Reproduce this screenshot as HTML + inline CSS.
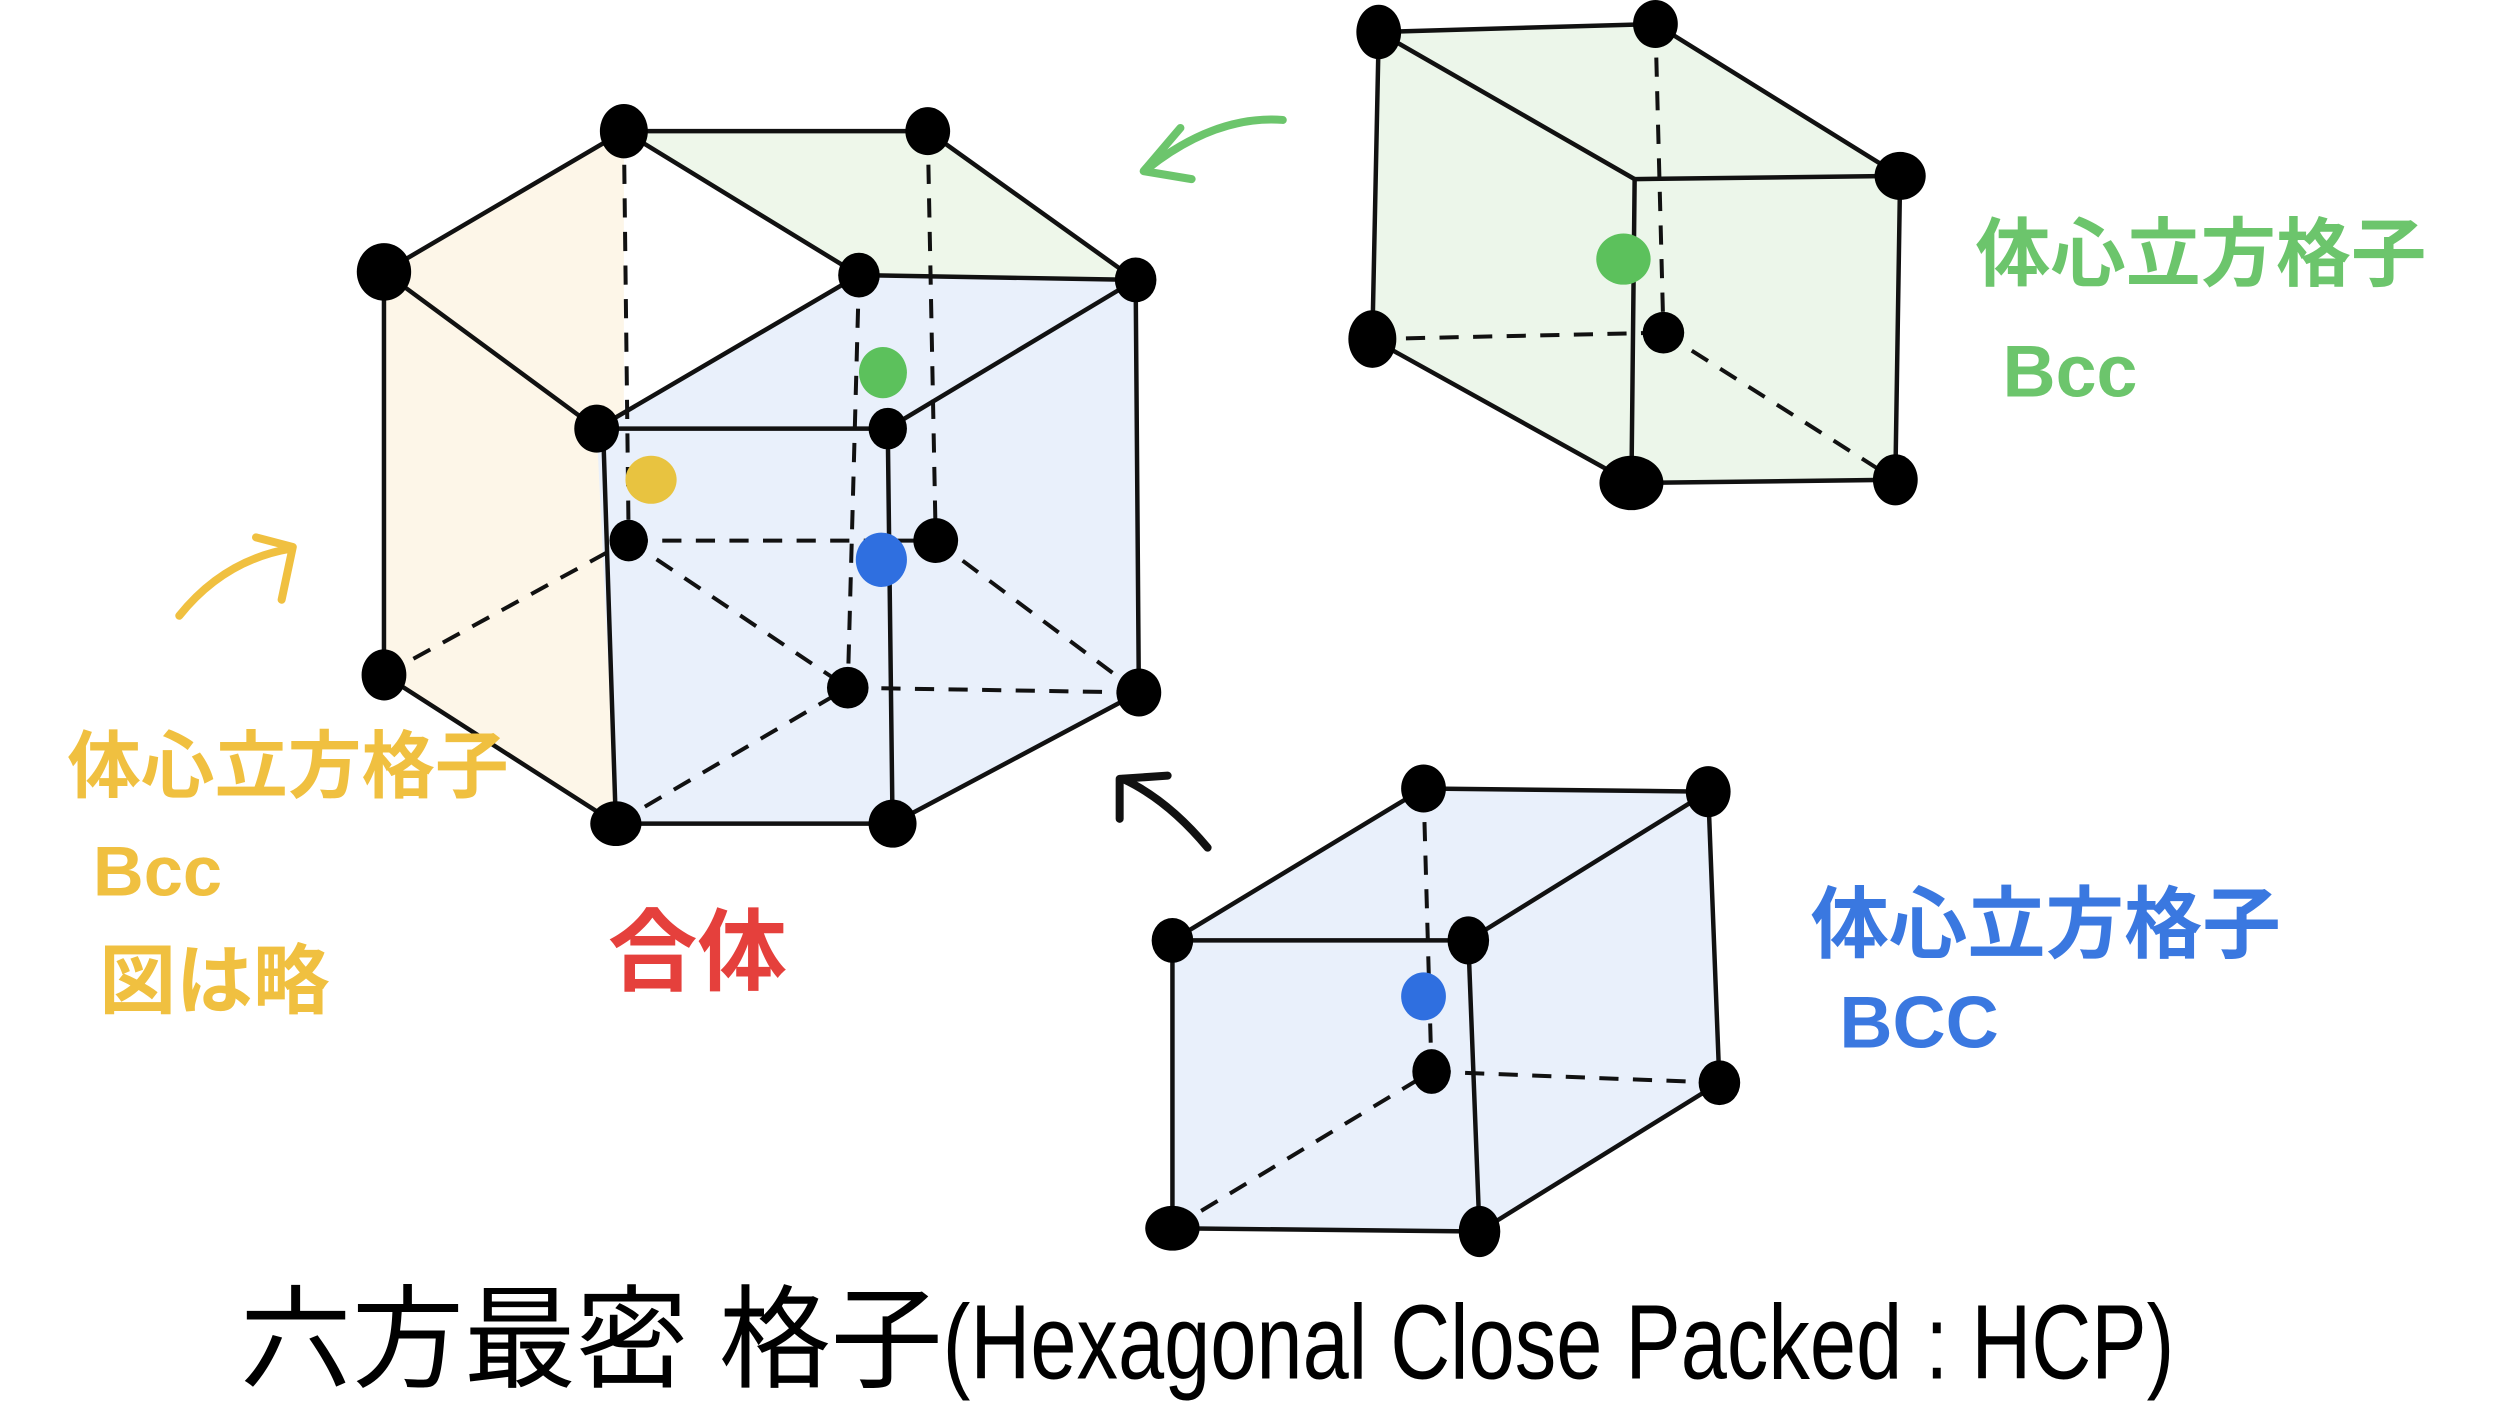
<!DOCTYPE html>
<html><head><meta charset="utf-8"><style>
html,body{margin:0;padding:0;background:#fff;}
svg{display:block;}
text{font-family:"Liberation Sans","Noto Sans CJK JP",sans-serif;}
</style></head><body>
<svg width="2508" height="1409" viewBox="0 0 1568 881" xmlns="http://www.w3.org/2000/svg">
<rect width="1568" height="881" fill="#fff"/>
<polygon points="240,170 390,82 390,338 385,515 240,422" fill="#fdf6e8"/>
<polygon points="390,82 580,82 710,175 537,172" fill="#eef7ea"/>
<polygon points="373,268 537,172 710,175 712,433 558,515 385,515" fill="#e9f0fb"/>
<polygon points="862,20 1035,15 1188,110 1185,300 1020,302 858,212" fill="#ecf6ea"/>
<polygon points="890,493 1068,495 1075,677 925,770 733,768 733,588" fill="#e9f0fb"/>
<g stroke="#111" stroke-width="2.8" fill="none" stroke-linecap="round">
<polyline points="240,422 240,170 390,82 580,82 710,175 712,433 558,515 385,515 240,422"/>
<line x1="390" y1="82" x2="537" y2="172"/>
<line x1="537" y1="172" x2="710" y2="175"/>
<line x1="240" y1="170" x2="373" y2="268"/>
<line x1="373" y1="268" x2="537" y2="172"/>
<line x1="373" y1="268" x2="555" y2="268"/>
<line x1="555" y1="268" x2="710" y2="175"/>
<line x1="377" y1="268" x2="385" y2="515"/>
<line x1="555" y1="268" x2="558" y2="515"/>
<polyline points="862,20 1035,15 1188,110 1185,300 1020,302 858,212 862,20"/>
<line x1="862" y1="20" x2="1022" y2="112"/>
<line x1="1022" y1="112" x2="1188" y2="110"/>
<line x1="1022" y1="112" x2="1020" y2="302"/>
<polyline points="733,588 890,493 1068,495 1075,677 925,770 733,768 733,588"/>
<line x1="733" y1="588" x2="918" y2="588"/>
<line x1="918" y1="588" x2="1068" y2="495"/>
<line x1="918" y1="588" x2="925" y2="770"/>
</g>
<g stroke="#111" stroke-width="2.5" fill="none" stroke-dasharray="12,9">
<line x1="390" y1="82" x2="393" y2="338"/>
<line x1="580" y1="82" x2="585" y2="338"/>
<line x1="537" y1="172" x2="530" y2="430"/>
<line x1="393" y1="338" x2="585" y2="338"/>
<line x1="240" y1="422" x2="393" y2="338"/>
<line x1="393" y1="338" x2="530" y2="430"/>
<line x1="530" y1="430" x2="712" y2="433"/>
<line x1="585" y1="338" x2="712" y2="433"/>
<line x1="385" y1="515" x2="530" y2="430"/>
<line x1="1035" y1="15" x2="1040" y2="208"/>
<line x1="858" y1="212" x2="1040" y2="208"/>
<line x1="1040" y1="208" x2="1185" y2="300"/>
<line x1="890" y1="493" x2="895" y2="670"/>
<line x1="895" y1="670" x2="1075" y2="677"/>
<line x1="733" y1="768" x2="895" y2="670"/>
</g>
<g fill="#000">
<ellipse cx="390" cy="82" rx="15" ry="17"/><ellipse cx="580" cy="82" rx="14" ry="15"/>
<ellipse cx="710" cy="175" rx="13" ry="14"/><ellipse cx="537" cy="172" rx="13" ry="14"/>
<ellipse cx="373" cy="268" rx="14" ry="15"/><ellipse cx="240" cy="170" rx="17" ry="18"/>
<ellipse cx="555" cy="268" rx="12" ry="13"/>
<ellipse cx="240" cy="422" rx="14" ry="16"/><ellipse cx="385" cy="515" rx="16" ry="14"/>
<ellipse cx="558" cy="515" rx="15" ry="15"/><ellipse cx="712" cy="433" rx="14" ry="15"/>
<ellipse cx="393" cy="338" rx="12" ry="13"/><ellipse cx="585" cy="338" rx="14" ry="14"/>
<ellipse cx="530" cy="430" rx="13" ry="13"/>
<ellipse cx="862" cy="20" rx="14" ry="17"/><ellipse cx="1035" cy="15" rx="14" ry="15"/>
<ellipse cx="1188" cy="110" rx="16" ry="15"/><ellipse cx="1040" cy="208" rx="13" ry="13"/>
<ellipse cx="858" cy="212" rx="15" ry="18"/><ellipse cx="1020" cy="302" rx="20" ry="17"/>
<ellipse cx="1185" cy="300" rx="14" ry="16"/>
<ellipse cx="890" cy="493" rx="14" ry="15"/><ellipse cx="1068" cy="495" rx="14" ry="16"/>
<ellipse cx="733" cy="588" rx="13" ry="14"/><ellipse cx="918" cy="588" rx="13" ry="15"/>
<ellipse cx="895" cy="670" rx="12" ry="14"/><ellipse cx="1075" cy="677" rx="13" ry="14"/>
<ellipse cx="733" cy="768" rx="17" ry="14"/><ellipse cx="925" cy="770" rx="13" ry="16"/>
</g>
<ellipse cx="552" cy="233" rx="15" ry="16" fill="#5cc15c"/>
<ellipse cx="407" cy="300" rx="16" ry="15" fill="#e8c340"/>
<ellipse cx="551" cy="350" rx="16" ry="17" fill="#2f6fe0"/>
<ellipse cx="1015" cy="162" rx="17" ry="16" fill="#5cc15c"/>
<ellipse cx="890" cy="623" rx="14" ry="15" fill="#2f6fe0"/>
<g fill="none" stroke-width="5" stroke-linecap="round" stroke-linejoin="round">
<path d="M802,75 Q760,72 718,105" stroke="#6cc56c"/><path d="M738,80 L715,107 L745,112" stroke="#6cc56c"/>
<path d="M112,385 Q140,350 182,343" stroke="#f0c040"/><path d="M160,336 L183,342 L176,375" stroke="#f0c040"/>
<path d="M755,530 Q730,500 702,487" stroke="#111"/><path d="M700,512 L700,487 L730,485" stroke="#111"/>
</g>
<g font-weight="bold">
<text x="1235" y="175" font-size="47" fill="#6cc56c">体心立方格子</text>
<text x="1252" y="248" font-size="46" fill="#6cc56c">Bcc</text>
<text x="42" y="495" font-size="46" fill="#f0c040">体心立方格子</text>
<text x="58" y="560" font-size="44" fill="#f0c040">Bcc</text>
<text x="62" y="630" font-size="48" fill="#f0c040">図は略</text>
<text x="380" y="615" font-size="56" fill="#e5403c">合体</text>
<text x="1132" y="595" font-size="49" fill="#3a78e0">体心立方格子</text>
<text x="1150" y="655" font-size="46" fill="#3a78e0">BCC</text>
</g>
<text x="150" y="862" font-size="70" fill="#000">六方最密 格子<tspan font-size="66" textLength="770" lengthAdjust="spacingAndGlyphs">(Hexagonal  Close Packed : HCP)</tspan></text>
</svg>
</body></html>
